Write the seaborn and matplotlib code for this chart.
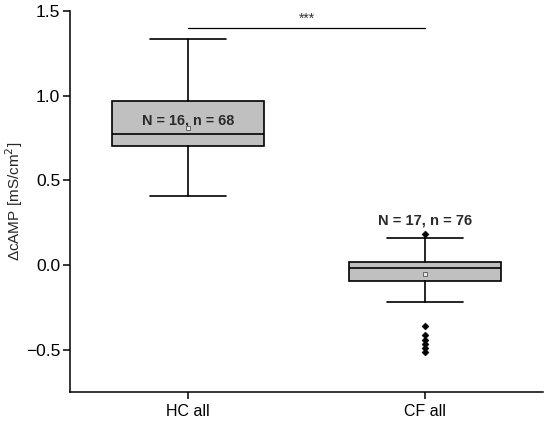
import matplotlib
matplotlib.use("Agg")
import matplotlib.pyplot as plt
import seaborn as sns
import pandas as pd

# valores (resumo dos boxplots)
grupos = ["HC all", "CF all"]
whisk_baixo = [0.41, -0.218]
q1 = [0.70, -0.092]
mediana = [0.775, -0.016]
q3 = [0.966, 0.018]
whisk_alto = [1.337, 0.157]
medias = [0.81, -0.053]
rotulos_n = ["N = 16, n = 68", "N = 17, n = 76"]
outliers_cf = [0.186, -0.363, -0.416, -0.441, -0.465, -0.49, -0.514]

sns.set_style("ticks")
plt.rcParams['font.family'] = ['Liberation Sans', 'DejaVu Sans']

fig = plt.figure(figsize=(5.5, 4.22), dpi=100)
ax = fig.add_axes([0.127, 0.071, 0.861, 0.903])

stats = []
for i, g in enumerate(grupos):
    stats.append({
        'label': g, 'whislo': whisk_baixo[i], 'q1': q1[i], 'med': mediana[i],
        'q3': q3[i], 'whishi': whisk_alto[i], 'mean': medias[i], 'fliers': [],
    })

ax.bxp(stats, positions=[0, 1], widths=0.64, patch_artist=True,
       showfliers=False, showmeans=False,
       boxprops=dict(facecolor='#c0c0c0', edgecolor='black', linewidth=1.2),
       medianprops=dict(color='black', linewidth=1.2),
       whiskerprops=dict(color='black', linewidth=1.2),
       capprops=dict(color='black', linewidth=1.2),
       capwidths=0.32)

# pontos fora (outliers) do grupo CF
df_out = pd.DataFrame({'x': [1] * len(outliers_cf), 'y': outliers_cf})
sns.scatterplot(data=df_out, x='x', y='y', marker='D', s=13, color='black',
                edgecolor='black', ax=ax, zorder=4, legend=False)

# anotacoes N / n
ax.text(0, 0.853, rotulos_n[0], ha='center', va='center', fontsize=10.4,
        fontweight='bold', color='#2a2a2a', zorder=3)
ax.text(1, 0.265, rotulos_n[1], ha='center', va='center', fontsize=10.6,
        fontweight='bold', color='#2a2a2a', zorder=3)

# medias (quadrado vazado)
df_med = pd.DataFrame({'x': [0, 1], 'y': medias})
sns.scatterplot(data=df_med, x='x', y='y', marker='s', s=9, color='#e8e8e8',
                edgecolor='#666666', linewidth=0.7, ax=ax, zorder=5, legend=False)

# linha de significancia
ax.plot([0, 1], [1.40, 1.40], color='black', linewidth=0.9)
ax.text(0.5, 1.415, '***', ha='center', va='bottom', fontsize=10,
        color='#333333')

ax.set_xlim(-0.5, 1.5)
ax.set_ylim(-0.75, 1.5)
ax.set_xticks([0, 1])
ax.set_xticklabels(grupos)
ax.set_yticks([-0.5, 0.0, 0.5, 1.0, 1.5])
ax.set_yticklabels(['\u22120.5', '0.0', '0.5', '1.0', '1.5'])
ax.tick_params(axis='both', direction='out', length=5, width=1.1,
               color='black', labelcolor='black')
ax.tick_params(axis='y', labelsize=12.5, pad=2)
ax.tick_params(axis='x', labelsize=11.5)
ax.set_xlabel('')
ax.set_ylabel('\u0394cAMP [mS/cm$^2$]', fontsize=11, va='center')
ax.yaxis.set_label_coords(-0.118, 0.5)
for s in ['left', 'bottom']:
    ax.spines[s].set_linewidth(1.1)
    ax.spines[s].set_color('black')
sns.despine(ax=ax)

fig.savefig('out.png', dpi=100)
